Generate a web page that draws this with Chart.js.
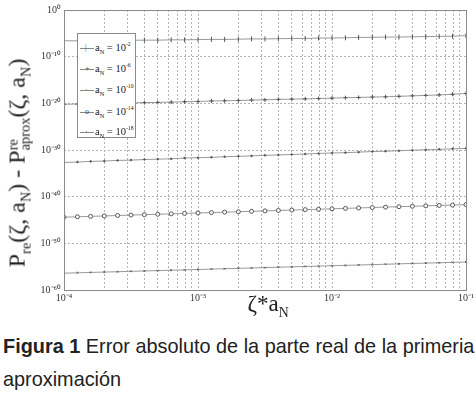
<!DOCTYPE html>
<html>
<head>
<meta charset="utf-8">
<script src="https://cdn.jsdelivr.net/npm/chart.js@4/dist/chart.umd.min.js"></script>
<style>
  body { margin: 0; background: #fff; }
  #wrap { position: relative; width: 476px; height: 394px; overflow: hidden; }
  #chart-box { position: absolute; left: 0; top: 0; width: 476px; height: 312px; }
  .serif { font-family: "Liberation Serif", "DejaVu Serif", serif; color: #222; }
  #ytitle { position: absolute; left: 19px; top: 163px; white-space: nowrap; font-size: 24px;
            transform: translate(-50%, -50%) rotate(-90deg); }
  #xtitle { position: absolute; left: 268px; top: 306px; transform: translate(-50%, -50%);
            font-size: 23px; white-space: nowrap; }
  sub, sup { font-size: 0.6em; }
  .stack { display: inline-block; vertical-align: middle; line-height: 0.9; font-size: 0.6em; text-align: left; }
  #legend { position: absolute; left: 77px; top: 33px; width: 57px; height: 103px; background: #fff;
            border: 1px solid #8a8a8a; font-size: 10.5px; }
  #legend sup { font-size: 0.55em; }
  .row { position: absolute; left: 2px; height: 14px; line-height: 14px; white-space: nowrap; }
  .sample { display: inline-block; width: 14px; height: 0; border-top: 1px solid #888;
            vertical-align: middle; margin-right: 1px; position: relative; }
  .mk { position: absolute; left: 5px; top: -5px; font-size: 8px; line-height: 8px; color: #444; }
  .cap { position: absolute; left: 3px; white-space: nowrap; transform-origin: 0 0;
         font-family: "Liberation Sans", Arial, sans-serif; font-size: 21px; line-height: 24px; color: #222; }
</style>
</head>
<body>
<div id="wrap">
  <div id="chart-box"><canvas id="errChart" width="476" height="312"></canvas></div>

  <div id="ytitle" class="serif">P<sub>re</sub>(ζ, a<sub>N</sub>) - P<span class="stack">re<br>aprox</span>(ζ, a<sub>N</sub>)</div>
  <div id="xtitle" class="serif">ζ*a<sub>N</sub></div>

  <div id="legend" class="serif">
    <div class="row" style="top:3px"><span class="sample"><span class="mk">|</span></span>a<sub>N</sub> = 10<sup>-2</sup></div>
    <div class="row" style="top:24px"><span class="sample"><span class="mk">+</span></span>a<sub>N</sub> = 10<sup>-6</sup></div>
    <div class="row" style="top:45px"><span class="sample"><span class="mk">·</span></span>a<sub>N</sub> = 10<sup>-10</sup></div>
    <div class="row" style="top:67px"><span class="sample"><span class="mk">o</span></span>a<sub>N</sub> = 10<sup>-14</sup></div>
    <div class="row" style="top:87px"><span class="sample"><span class="mk">·</span></span>a<sub>N</sub> = 10<sup>-18</sup></div>
  </div>

  <div id="cap1" class="cap" style="top:334px"><b>Figura 1</b> Error absoluto de la parte real de la primeria</div>
  <div id="cap2" class="cap" style="top:367px">aproximación</div>
</div>

<script>
// x values (zeta * a_N), log spaced from 1e-4 to 1e-1
const xValues = [1e-4, 1.26e-4, 1.58e-4, 2e-4, 2.51e-4, 3.16e-4, 3.98e-4, 5.01e-4, 6.31e-4, 7.94e-4,
  1e-3, 1.26e-3, 1.58e-3, 2e-3, 2.51e-3, 3.16e-3, 3.98e-3, 5.01e-3, 6.31e-3, 7.94e-3,
  1e-2, 1.26e-2, 1.58e-2, 2e-2, 2.51e-2, 3.16e-2, 3.98e-2, 5.01e-2, 6.31e-2, 7.94e-2, 1e-1];

const seriesLabels = ['a_N = 10^-2', 'a_N = 10^-6', 'a_N = 10^-10', 'a_N = 10^-14', 'a_N = 10^-18'];

// absolute error
const errA2 = [2.5e-7, 2.5e-7, 2.8e-7, 2.8e-7, 3.2e-7, 3.2e-7, 3.5e-7, 3.5e-7, 4.0e-7, 4.0e-7,
  4.5e-7, 5.0e-7, 5.0e-7, 5.6e-7, 6.3e-7, 6.3e-7, 7.1e-7, 7.9e-7, 7.9e-7, 1.0e-6,
  1.0e-6, 1.1e-6, 1.3e-6, 1.4e-6, 1.6e-6, 1.6e-6, 1.8e-6, 2.0e-6, 2.2e-6, 2.5e-6, 3.2e-6];
const errA6 = [6.3e-21, 7.1e-21, 7.9e-21, 8.9e-21, 1e-20, 1.26e-20, 1.4e-20, 1.6e-20, 1.8e-20, 2.2e-20,
  2.5e-20, 3.2e-20, 3.5e-20, 4e-20, 5e-20, 5.6e-20, 7.1e-20, 7.9e-20, 8.9e-20, 1.1e-19,
  1.3e-19, 1.6e-19, 1.8e-19, 2.2e-19, 2.5e-19, 3.2e-19, 4e-19, 5e-19, 6.3e-19, 8.9e-19, 1.3e-18];
const errA10 = [2.2e-33, 2.6e-33, 3.6e-33, 4.3e-33, 5.8e-33, 6.8e-33, 9.1e-33, 1.1e-32, 1.3e-32, 1.9e-32,
  2.2e-32, 2.7e-32, 3.6e-32, 4.4e-32, 5.5e-32, 7.2e-32, 8.8e-32, 1.1e-31, 1.4e-31, 1.8e-31,
  2.3e-31, 2.7e-31, 3.5e-31, 4.6e-31, 5.5e-31, 7.0e-31, 9.0e-31, 1.1e-30, 1.4e-30, 1.8e-30, 2.2e-30];
const errA14 = [4.0e-45, 4.9e-45, 6.0e-45, 7.4e-45, 9.1e-45, 1.12e-44, 1.38e-44, 1.7e-44, 2.1e-44, 2.6e-44,
  3.2e-44, 3.9e-44, 4.8e-44, 5.9e-44, 7.2e-44, 8.9e-44, 1.1e-43, 1.35e-43, 1.66e-43, 2.0e-43,
  2.5e-43, 3.1e-43, 3.8e-43, 4.7e-43, 5.8e-43, 7.1e-43, 8.7e-43, 1.07e-42, 1.3e-42, 1.6e-42, 2.0e-42];
const errA18 = [4.0e-57, 4.8e-57, 5.8e-57, 6.9e-57, 8.3e-57, 1.0e-56, 1.2e-56, 1.45e-56, 1.74e-56, 2.1e-56,
  2.5e-56, 3.0e-56, 3.6e-56, 4.4e-56, 5.2e-56, 6.3e-56, 7.6e-56, 9.1e-56, 1.1e-55, 1.3e-55,
  1.6e-55, 1.9e-55, 2.3e-55, 2.75e-55, 3.3e-55, 4.0e-55, 4.8e-55, 5.75e-55, 6.9e-55, 8.3e-55, 1.0e-54];

// tick positions
const xTickDecades = [1e-4, 1e-3, 1e-2, 1e-1];
const yTickValues = [1e-60, 1e-50, 1e-40, 1e-30, 1e-20, 1e-10, 1];

const supMap = { '-': '⁻', '0': '⁰', '1': '¹', '2': '²', '3': '³', '4': '⁴', '5': '⁵', '6': '⁶', '7': '⁷', '8': '⁸', '9': '⁹' };
function powLabel(v) {
  const e = String(Math.round(Math.log10(v)));
  return '10' + e.split('').map(c => supMap[c]).join('');
}

function toPoints(ys) {
  return xValues.map((x, i) => ({ x: x, y: ys[i] }));
}

const lineColor = '#999';
const markColor = '#555';

function makeSet(label, ys, style, radius, fill, rot) {
  return {
    label: label,
    data: toPoints(ys),
    borderColor: lineColor,
    borderWidth: 1,
    pointStyle: style,
    pointRadius: radius,
    pointRotation: rot || 0,
    pointBorderColor: markColor,
    pointBackgroundColor: fill ? markColor : '#fff',
    pointBorderWidth: 1,
    fill: false
  };
}

// frame round the plot area
const framePlugin = {
  id: 'frame',
  afterDraw(chart) {
    const a = chart.chartArea;
    const ctx = chart.ctx;
    ctx.save();
    ctx.strokeStyle = '#8a8a8a';
    ctx.lineWidth = 1;
    ctx.strokeRect(Math.round(a.left) + 0.5, Math.round(a.top) + 0.5, Math.round(a.right - a.left), Math.round(a.bottom - a.top));
    ctx.restore();
  }
};

const ctx = document.getElementById('errChart').getContext('2d');
const errChart = new Chart(ctx, {
  type: 'line',
  data: {
    datasets: [
      makeSet(seriesLabels[0], errA2, 'line', 2.5, false, 90),
      makeSet(seriesLabels[1], errA6, 'cross', 2, false),
      makeSet(seriesLabels[2], errA10, 'circle', 0.8, true),
      makeSet(seriesLabels[3], errA14, 'circle', 2, false),
      makeSet(seriesLabels[4], errA18, 'crossRot', 1.2, false)
    ]
  },
  options: {
    responsive: false,
    animation: false,
    layout: { padding: { top: 10, right: 10, left: 0, bottom: 0 } },
    plugins: { legend: { display: false }, tooltip: { enabled: false } },
    scales: {
      x: {
        type: 'logarithmic',
        min: 1e-4,
        max: 1e-1,
        afterBuildTicks(scale) {
          const t = [];
          xTickDecades.forEach((d, i) => {
            if (i === xTickDecades.length - 1) { t.push({ value: d }); return; }
            for (let m = 1; m <= 9; m++) t.push({ value: +(m * d).toPrecision(3) });
          });
          scale.ticks = t;
        },
        afterFit(scale) { scale.height = 22; },
        ticks: {
          autoSkip: false,
          maxRotation: 0,
          padding: 2,
          color: '#333',
          font: { family: 'Liberation Serif', size: 10 },
          callback(v) {
            return xTickDecades.some(d => Math.abs(v / d - 1) < 1e-6) ? powLabel(v) : '';
          }
        },
        grid: { color: '#b4b4b4', lineWidth: 1, drawTicks: false },
        border: { display: false, dash: [2, 2] }
      },
      y: {
        type: 'logarithmic',
        min: 1e-60,
        max: 1,
        afterBuildTicks(scale) {
          scale.ticks = yTickValues.map(v => ({ value: v }));
        },
        afterFit(scale) { scale.width = 64; },
        ticks: {
          autoSkip: false,
          padding: 3,
          color: '#333',
          font: { family: 'Liberation Serif', size: 10 },
          callback(v) { return powLabel(v); }
        },
        grid: { color: '#b4b4b4', lineWidth: 1, drawTicks: false },
        border: { display: false, dash: [2, 2] }
      }
    }
  },
  plugins: [framePlugin]
});

// squeeze caption to the narrow look of the original
const cap1 = document.getElementById('cap1');
const cap2 = document.getElementById('cap2');
const k = 471 / cap1.scrollWidth;
cap1.style.transform = 'scaleX(' + k + ')';
cap2.style.transform = 'scaleX(' + k + ')';
</script>
</body>
</html>
